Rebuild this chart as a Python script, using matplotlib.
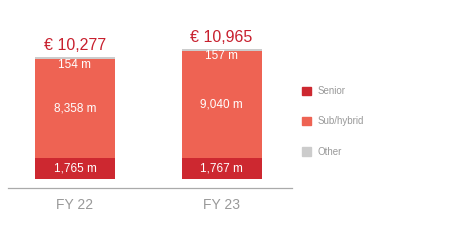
import matplotlib
matplotlib.use("Agg")
import matplotlib.pyplot as plt
import numpy as np
from matplotlib.patches import Patch

plt.rcParams['font.family'] = ['Liberation Sans', 'DejaVu Sans']

years = ['FY 22', 'FY 23']
senior = np.array([1765, 1767])
subhybrid = np.array([8358, 9040])
other = np.array([154, 157])
totals = np.array([10277, 10965])

c_senior = '#cd2830'
c_sub = '#ee6353'
c_other = '#cccccc'
c_total = '#c8202e'
c_grey = '#999999'

fig = plt.figure(figsize=(4.5, 2.4), dpi=100)
ax = fig.add_axes([8/450, 61/240, 284/450, 159/240])

x = np.arange(len(years))
w = 0.546
ax.bar(x, senior, w, color=c_senior, linewidth=0)
ax.bar(x, subhybrid, w, bottom=senior, color=c_sub, linewidth=0)
ax.bar(x, other, w, bottom=senior + subhybrid, color=c_other, linewidth=0)

for i in range(len(years)):
    ax.text(x[i], senior[i] / 2, f'{senior[i]:,} m', ha='center', va='center',
            color='white', fontsize=8.5)
    ax.text(x[i], senior[i] + subhybrid[i] / 2, f'{subhybrid[i]:,} m', ha='center',
            va='center', color='white', fontsize=8.5)
    ax.annotate(f'{other[i]:,} m', (x[i], totals[i]), xytext=(0, -1),
                textcoords='offset points', ha='center', va='top',
                color='white', fontsize=8.5)
    ax.annotate(f'€ {totals[i]:,}', (x[i], totals[i]), xytext=(0, 3),
                textcoords='offset points', ha='center', va='bottom',
                color=c_total, fontsize=11.5)

ax.set_xlim(-0.457, 1.481)
ax.set_ylim(0, 13410)
ax.set_xticks(x)
ax.set_xticklabels(years, fontsize=8.5)
ax.tick_params(axis='x', length=0, pad=7, labelcolor=c_grey)
ax.set_yticks([])
for s in ['top', 'left', 'right']:
    ax.spines[s].set_visible(False)
ax.spines['bottom'].set_position(('outward', 6.5))
ax.spines['bottom'].set_color('#aaaaaa')
ax.spines['bottom'].set_linewidth(0.9)

handles = [Patch(color=c_senior, label='Senior'),
           Patch(color=c_sub, label='Sub/hybrid'),
           Patch(color=c_other, label='Other')]
fig.legend(handles=handles, loc='upper left', bbox_to_anchor=(302/450, 1 - 86/240),
           frameon=False, fontsize=7, labelcolor='#999999', labelspacing=2.1,
           handlelength=0.93, handleheight=0.93, handletextpad=0.7,
           borderpad=0, borderaxespad=0)

fig.savefig('out.png', dpi=100)
